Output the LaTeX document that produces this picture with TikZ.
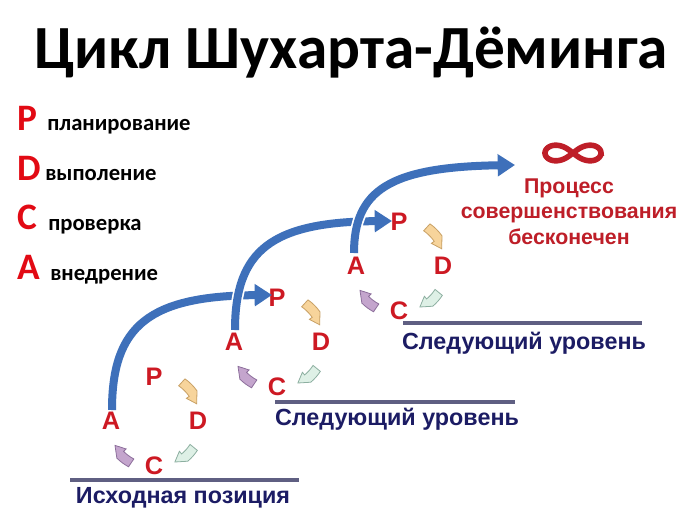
\documentclass[tikz,border=0pt]{standalone}
\usepackage{fontspec}
\setmainfont{Liberation Sans}
\newfontfamily\calib{Carlito}
\usetikzlibrary{arrows.meta}
\definecolor{lred}{RGB}{226,10,20}
\definecolor{dred}{RGB}{205,25,35}
\definecolor{tred}{RGB}{190,30,40}
\definecolor{navy}{RGB}{28,28,100}
\definecolor{bblue}{RGB}{62,112,186}
\definecolor{lineg}{RGB}{95,95,130}
\definecolor{orf}{RGB}{247,212,155}
\definecolor{ord}{RGB}{200,160,100}
\definecolor{grf}{RGB}{222,240,230}
\definecolor{grd}{RGB}{140,175,160}
\definecolor{puf}{RGB}{196,165,205}
\definecolor{pud}{RGB}{140,110,155}
\tikzset{
  x=0.75pt, y=0.75pt,
  legletter/.style={anchor=base west, inner sep=0pt, text=lred, font=\calib\bfseries\fontsize{28}{30}\selectfont},
  legtext/.style={anchor=base west, inner sep=0pt, text=black, font=\calib\bfseries\fontsize{17}{19}\selectfont},
  cycletter/.style={inner sep=0pt, text=dred, font=\bfseries\fontsize{19}{20}\selectfont},
  leveltext/.style={anchor=base, inner sep=0pt, text=navy, font=\bfseries\fontsize{17.5}{19}\selectfont},
  levelline/.style={draw=lineg, line width=3},
  bigarrow/.style={draw=bblue, line width=6, -{Triangle[width=16pt,length=13pt]}},
  bigunder/.style={draw=white, line width=8.5},
  pics/carrow/.style n args={5}{code={
    \filldraw[fill=#4, draw=#5, line width=0.6]
      (#1:43) arc[start angle=#1, end angle=#2, radius=43]
      -- (#2:39.5) -- (#3:46) -- (#2:52.5)
      arc[start angle=#2, end angle=#1, radius=49] -- cycle;
  }},
  pics/pdca/.style={code={
    \node[cycletter] (-P) at (90:44) {P};
    \node[cycletter] (-D) at (0:44) {D};
    \node[cycletter] (-C) at (-90:45) {C};
    \node[cycletter] (-A) at (180:43) {A};
    \pic {carrow={55}{35}{22}{orf}{ord}};
    \pic {carrow={-33}{-50}{-63}{grf}{grd}};
    \pic {carrow={-118}{-135}{-148}{puf}{pud}};
  }}
}
\begin{document}
\begin{tikzpicture}
\useasboundingbox (0,0) rectangle (700,-525);
\fill[white] (0,0) rectangle (700,-525);
% title
\node[anchor=base, inner sep=0pt, font=\calib\bfseries\fontsize{46}{48}\selectfont] (title) at (351,-68) {Цикл Шухарта-Дёминга};
% legend
\node[legletter] (lP) at (17,-130) {P};
\node[legtext] (tP) at (47,-130) {планирование};
\node[legletter] (lD) at (17,-180) {D};
\node[legtext] (tD) at (45,-180) {выполение};
\node[legletter] (lC) at (17,-229) {C};
\node[legtext] (tC) at (48,-230) {проверка};
\node[legletter] (lA) at (17,-279) {A};
\node[legtext] (tA) at (50,-280) {внедрение};
% cycles
\pic (c1) at (154,-421) {pdca};
\pic (c2) at (277,-342) {pdca};
\pic (c3) at (399,-266) {pdca};
% level lines and labels
\coordinate (l1a) at (70,-480); \coordinate (l1b) at (299,-480);
\coordinate (l2a) at (275,-402); \coordinate (l2b) at (515,-402);
\coordinate (l3a) at (403,-323); \coordinate (l3b) at (642,-323);
\draw[levelline] (l1a) -- (l1b);
\draw[levelline] (l2a) -- (l2b);
\draw[levelline] (l3a) -- (l3b);
\node[leveltext] (t1) at (183,-503) {Исходная позиция};
\node[leveltext] (t2) at (397,-425) {Следующий уровень};
\node[leveltext] (t3) at (524,-349) {Следующий уровень};
% big arrows
\coordinate (s1) at (112,-410); \coordinate (e1) at (272,-295);
\coordinate (s2) at (235,-330); \coordinate (e2) at (392,-221);
\coordinate (s3) at (354,-253); \coordinate (e3) at (515,-165);
\draw[bigarrow] (s1) .. controls (112,-325) and (150,-296) .. (e1);
\draw[bigunder] (s2) .. controls (235,-250) and (272,-222) .. (380,-221);
\draw[bigarrow] (s2) .. controls (235,-250) and (272,-222) .. (e2);
\draw[bigunder] (s3) .. controls (354,-190) and (390,-167) .. (500,-165);
\draw[bigarrow] (s3) .. controls (354,-190) and (390,-167) .. (e3);
% infinity and text
\coordinate (inf) at (573,-153);
\draw[tred, line width=4.2, shift={(inf)}] plot[domain=0:360, samples=120, smooth cycle]
  ({28*cos(\x)/(1+sin(\x)^2)}, {22*sin(\x)*cos(\x)/(1+sin(\x)^2)});
\node[anchor=base, inner sep=0pt, text=tred, font=\bfseries\fontsize{16}{18}\selectfont] (pr1) at (569,-193) {Процесс};
\node[anchor=base, inner sep=0pt, text=tred, font=\bfseries\fontsize{16}{18}\selectfont] (pr2) at (569,-218) {совершенствования};
\node[anchor=base, inner sep=0pt, text=tred, font=\bfseries\fontsize{16}{18}\selectfont] (pr3) at (569,-244) {бесконечен};
\end{tikzpicture}
\end{document}
